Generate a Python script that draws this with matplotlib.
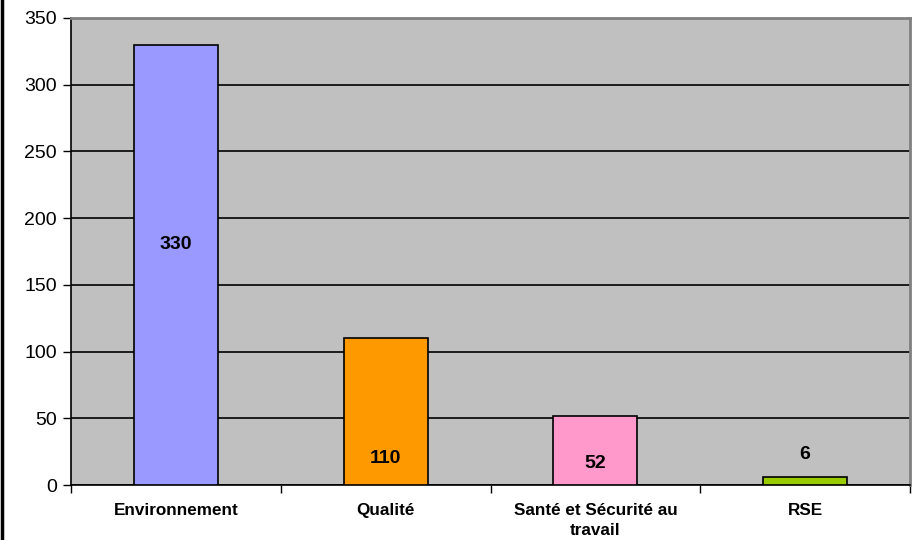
import matplotlib
matplotlib.use("Agg")
import matplotlib.pyplot as plt
from matplotlib.lines import Line2D

categories = ["Environnement", "Qualité", "Santé et Sécurité au\ntravail", "RSE"]
values = [330, 110, 52, 6]
colors = ["#9999FF", "#FF9900", "#FF99CC", "#99CC00"]
label_y = [180, 20, 16, 23]
yticks = [0, 50, 100, 150, 200, 250, 300, 350]

plt.rcParams["font.family"] = ["Liberation Sans", "DejaVu Sans"]

W, H = 916, 540
fig = plt.figure(figsize=(W / 100, H / 100), dpi=100)
left, right, top, bottom = 71, 910, 18, 485
ax = fig.add_axes([left / W, 1 - bottom / H, (right - left) / W, (bottom - top) / H])
ax.set_facecolor("#C0C0C0")

x = list(range(len(categories)))
ax.bar(x, values, width=0.4, color=colors, edgecolor="black", linewidth=1.2, zorder=3)
for xi, v, ly in zip(x, values, label_y):
    ax.text(xi, ly, str(v), ha="center", va="center", fontsize=14, fontweight="bold", zorder=4)

ax.set_xlim(-0.5, len(categories) - 0.5)
ax.set_ylim(0, 350)
ax.set_yticks(yticks)
ax.yaxis.grid(True, color="black", linewidth=1.2, zorder=1)
ax.set_axisbelow(True)
ax.tick_params(axis="y", labelsize=14, length=6, width=1, direction="out", pad=4)

ax.set_xticks(x)
ax.set_xticklabels(categories, fontsize=12.3, fontweight="bold", linespacing=1.4)
ax.tick_params(axis="x", length=0, pad=13)
ax.set_xticks([i - 0.5 for i in range(len(categories) + 1)], minor=True)
ax.tick_params(axis="x", which="minor", length=6, width=1, direction="out")

for s in ["left", "bottom"]:
    ax.spines[s].set_color("black")
    ax.spines[s].set_linewidth(1.2)
for s in ["top", "right"]:
    ax.spines[s].set_color("#808080")
    ax.spines[s].set_linewidth(2)

fig.add_artist(Line2D([1.5 / W, 1.5 / W], [0, 1], color="black", linewidth=2.5, transform=fig.transFigure))

fig.savefig("out.png", dpi=100, facecolor="white")
